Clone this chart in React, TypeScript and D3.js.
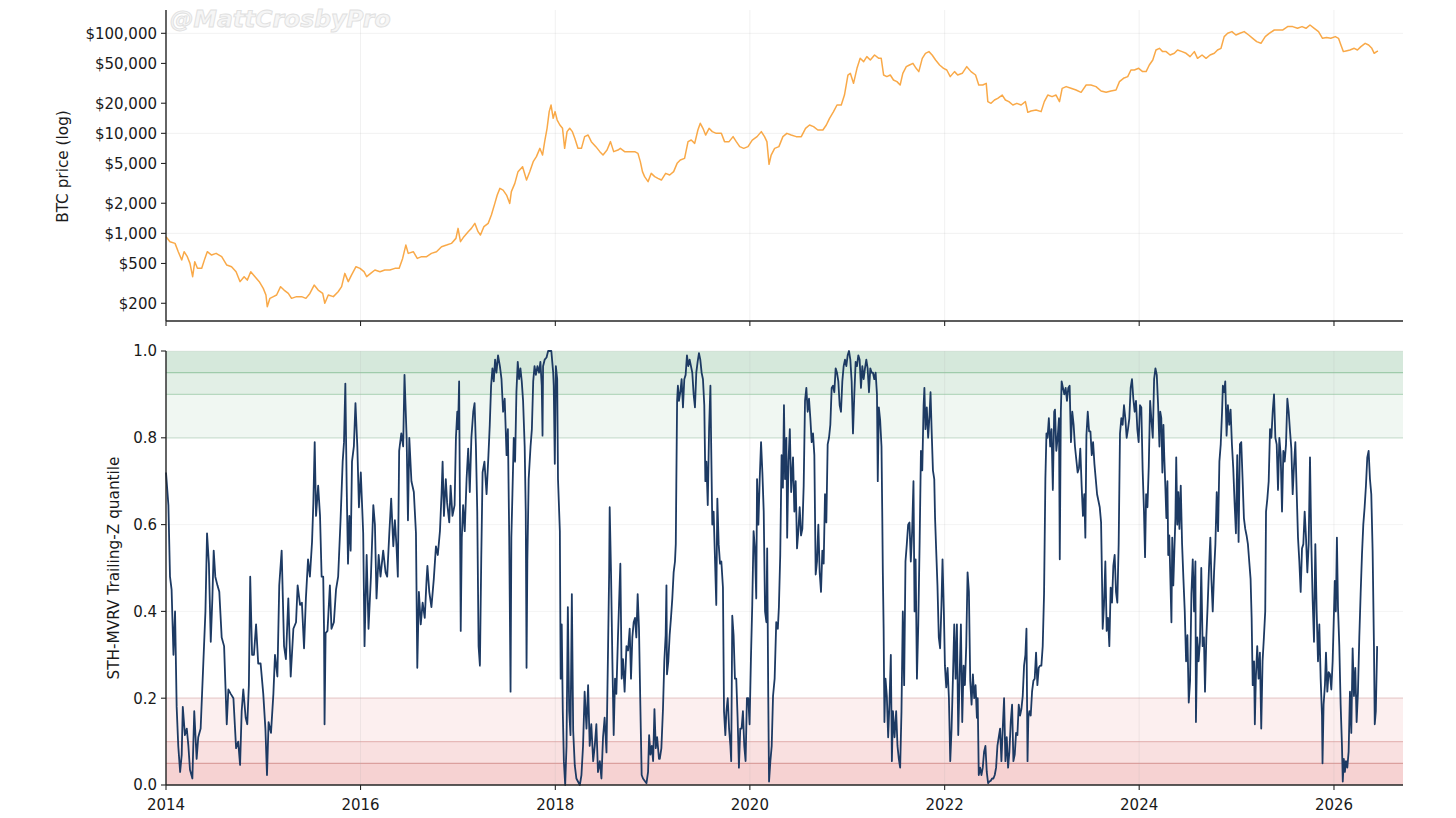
import React from "react";
import * as d3 from "d3";

// days since 2014-01-01 -> value
const START_UTC = Date.UTC(2014, 0, 1);
const END_DAY = 4642;
const YEAR_TICKS = [2014, 2016, 2018, 2020, 2022, 2024, 2026];
const PRICE_TICKS = [200, 500, 1000, 2000, 5000, 10000, 20000, 50000, 100000];
const PRICE_GRID = [1000, 10000, 100000];
const PRICE_DOMAIN: [number, number] = [133, 171000];
const Q_TICKS = [0, 0.2, 0.4, 0.6, 0.8, 1.0];
const HIGH_ZONES = [0.8, 0.9, 0.95];
const LOW_ZONES = [0.2, 0.1, 0.05];

const btcPrice: [number, number][] = [
  [0, 926], [15, 826], [34, 794], [46, 656], [59, 541], [68, 656], [80, 585], [90, 501], [100, 369], [108, 521],
  [118, 447], [134, 447], [146, 562], [155, 656], [171, 607], [188, 631], [209, 585], [228, 482], [246, 464], [263, 414],
  [278, 329], [293, 369], [305, 341], [318, 414], [334, 369], [350, 329], [365, 282], [375, 242], [380, 185], [390, 224],
  [403, 233], [415, 242], [430, 293], [443, 271], [459, 251], [471, 224], [490, 233], [509, 233], [525, 224], [540, 251],
  [556, 304], [571, 271], [588, 251], [596, 200], [609, 242], [628, 233], [646, 261], [659, 293], [671, 398], [684, 329],
  [696, 383], [713, 464], [728, 447], [743, 414], [753, 369], [768, 398], [784, 430], [803, 414], [821, 430], [840, 430],
  [859, 447], [875, 447], [888, 562], [900, 764], [909, 631], [928, 656], [943, 562], [959, 585], [978, 585], [996, 631],
  [1015, 656], [1034, 736], [1053, 764], [1071, 794], [1088, 891], [1096, 1122], [1105, 826], [1118, 927], [1134, 1040], [1146, 1122],
  [1159, 1259], [1171, 1040], [1180, 962], [1193, 1167], [1209, 1259], [1221, 1524], [1234, 1995], [1243, 2415], [1253, 2818], [1265, 2710],
  [1278, 2415], [1290, 1995], [1296, 2612], [1309, 3162], [1321, 4140], [1338, 4642], [1353, 3412], [1365, 4140], [1378, 5212], [1390, 5848],
  [1403, 7079], [1413, 6067], [1421, 8260], [1430, 11220], [1438, 16480], [1445, 19190], [1453, 14130], [1460, 16480], [1468, 13580], [1478, 12110],
  [1488, 11220], [1496, 7079], [1505, 10400], [1515, 11220], [1525, 10400], [1534, 8913], [1546, 7079], [1559, 7079], [1571, 9268], [1584, 9616],
  [1596, 8260], [1613, 7362], [1628, 6561], [1640, 6067], [1655, 6808], [1668, 8260], [1680, 6561], [1696, 6808], [1705, 7079], [1721, 6561],
  [1740, 6561], [1759, 6561], [1771, 6310], [1780, 5212], [1788, 4140], [1796, 3690], [1809, 3289], [1821, 3981], [1834, 3690], [1846, 3548],
  [1859, 3412], [1875, 3981], [1890, 3828], [1905, 4140], [1918, 5012], [1930, 5408], [1946, 5623], [1959, 8260], [1971, 8570], [1984, 7943],
  [1996, 10790], [2005, 12590], [2015, 11220], [2025, 9616], [2038, 11220], [2050, 10400], [2065, 10000], [2084, 10000], [2096, 8260], [2113, 8260],
  [2128, 9268], [2140, 8260], [2153, 7362], [2168, 7079], [2184, 7362], [2200, 8570], [2218, 9268], [2234, 10400], [2246, 9268], [2255, 8260],
  [2263, 4898], [2271, 6067], [2284, 7079], [2300, 7362], [2315, 9268], [2330, 10000], [2346, 9616], [2365, 9268], [2384, 9268], [2400, 11220],
  [2415, 12110], [2430, 11670], [2446, 10790], [2465, 10790], [2478, 12110], [2490, 14130], [2505, 16480], [2518, 19190], [2534, 19190], [2546, 24150],
  [2559, 38280], [2568, 39810], [2580, 31620], [2593, 44670], [2605, 56230], [2618, 52120], [2630, 58480], [2643, 54080], [2659, 60670], [2675, 56230],
  [2684, 56230], [2693, 38280], [2705, 36900], [2718, 38280], [2730, 34120], [2743, 32890], [2755, 30410], [2765, 39810], [2778, 46420], [2790, 48190],
  [2803, 50120], [2815, 44670], [2825, 41400], [2838, 56230], [2850, 63100], [2863, 65610], [2875, 60670], [2888, 54080], [2903, 48190], [2918, 44670],
  [2930, 42950], [2943, 36900], [2959, 41400], [2971, 38280], [2988, 39810], [3005, 46420], [3021, 41400], [3038, 38280], [3050, 30410], [3065, 30410],
  [3078, 31620], [3084, 20750], [3096, 19950], [3109, 21540], [3121, 22390], [3138, 24150], [3150, 21540], [3163, 20750], [3178, 19190], [3193, 19950],
  [3209, 19190], [3225, 20750], [3234, 16220], [3246, 16710], [3265, 17100], [3284, 16480], [3296, 20750], [3309, 24150], [3325, 23280], [3340, 24150],
  [3353, 20750], [3363, 28180], [3378, 29310], [3396, 28180], [3415, 27100], [3434, 25700], [3453, 30410], [3471, 30410], [3490, 29310], [3509, 26490],
  [3528, 25700], [3546, 26490], [3565, 27100], [3578, 32890], [3593, 35480], [3609, 36900], [3621, 42950], [3634, 42950], [3650, 44670], [3665, 41400],
  [3678, 41400], [3690, 48190], [3703, 54080], [3715, 68080], [3728, 70790], [3740, 65610], [3753, 65610], [3768, 60670], [3784, 63100], [3796, 68080],
  [3813, 65610], [3828, 63100], [3843, 58480], [3859, 65610], [3871, 56230], [3888, 60670], [3903, 56230], [3918, 60670], [3934, 63100], [3946, 68080],
  [3959, 70790], [3971, 92680], [3984, 100000], [4000, 104000], [4015, 96160], [4030, 100000], [4046, 104000], [4063, 96160], [4078, 89130], [4093, 82600],
  [4109, 79430], [4125, 92680], [4140, 100000], [4159, 107900], [4175, 107900], [4190, 107900], [4209, 116700], [4228, 116700], [4246, 112200], [4263, 116700],
  [4278, 112200], [4293, 121100], [4309, 112200], [4325, 104000], [4340, 89130], [4355, 90570], [4371, 89130], [4388, 92680], [4400, 89130], [4409, 76380],
  [4418, 65610], [4428, 66540], [4443, 68080], [4459, 70790], [4471, 68080], [4484, 73620], [4500, 79430], [4513, 76380], [4525, 70790], [4534, 63100],
  [4543, 65610], [4548, 66540],
];

const sthQuantile: [number, number][] = [
  [0, 0.72], [9, 0.645], [15, 0.48], [21, 0.45], [28, 0.3], [34, 0.4], [40, 0.18], [46, 0.09], [53, 0.03], [59, 0.07],
  [63, 0.18], [71, 0.115], [78, 0.13], [84, 0.09], [90, 0.035], [99, 0.015], [106, 0.17], [115, 0.06], [121, 0.11], [130, 0.13],
  [140, 0.28], [148, 0.4], [154, 0.58], [161, 0.51], [168, 0.33], [174, 0.43], [179, 0.54], [185, 0.48], [193, 0.46], [200, 0.445],
  [209, 0.34], [218, 0.32], [228, 0.14], [234, 0.22], [243, 0.21], [253, 0.2], [263, 0.085], [271, 0.1], [278, 0.046], [284, 0.17],
  [290, 0.22], [299, 0.155], [305, 0.14], [311, 0.23], [316, 0.48], [323, 0.3], [330, 0.3], [338, 0.37], [346, 0.28], [355, 0.28],
  [365, 0.21], [373, 0.13], [379, 0.023], [385, 0.145], [394, 0.12], [403, 0.21], [409, 0.3], [418, 0.25], [425, 0.46], [434, 0.54],
  [443, 0.32], [450, 0.29], [459, 0.43], [468, 0.25], [478, 0.36], [488, 0.375], [494, 0.46], [503, 0.415], [510, 0.42], [518, 0.315],
  [525, 0.43], [533, 0.52], [540, 0.48], [548, 0.56], [553, 0.65], [558, 0.79], [563, 0.62], [571, 0.69], [578, 0.62], [584, 0.48],
  [590, 0.48], [593, 0.36], [595, 0.14], [599, 0.35], [606, 0.355], [615, 0.46], [621, 0.36], [630, 0.375], [638, 0.45], [646, 0.48],
  [655, 0.61], [663, 0.745], [668, 0.79], [673, 0.925], [678, 0.69], [683, 0.51], [688, 0.62], [693, 0.54], [698, 0.745], [705, 0.78],
  [711, 0.88], [718, 0.78], [724, 0.64], [731, 0.72], [740, 0.58], [745, 0.32], [753, 0.53], [760, 0.36], [769, 0.48], [778, 0.645],
  [784, 0.6], [790, 0.43], [798, 0.53], [805, 0.48], [815, 0.54], [824, 0.49], [830, 0.48], [838, 0.58], [845, 0.66], [853, 0.55],
  [859, 0.61], [865, 0.55], [870, 0.48], [875, 0.77], [883, 0.81], [890, 0.78], [895, 0.945], [903, 0.8], [908, 0.61], [913, 0.8],
  [921, 0.7], [930, 0.675], [938, 0.58], [943, 0.27], [949, 0.445], [956, 0.37], [963, 0.42], [971, 0.385], [978, 0.475], [981, 0.505],
  [988, 0.445], [996, 0.41], [1005, 0.475], [1013, 0.55], [1020, 0.53], [1028, 0.585], [1034, 0.67], [1038, 0.745], [1043, 0.62], [1050, 0.705],
  [1055, 0.65], [1063, 0.605], [1068, 0.69], [1075, 0.62], [1083, 0.645], [1088, 0.8], [1093, 0.86], [1096, 0.82], [1100, 0.93], [1103, 0.645],
  [1106, 0.355], [1110, 0.57], [1115, 0.645], [1121, 0.585], [1128, 0.705], [1134, 0.775], [1140, 0.675], [1146, 0.8], [1153, 0.86], [1158, 0.88],
  [1163, 0.78], [1168, 0.63], [1173, 0.32], [1178, 0.275], [1183, 0.52], [1188, 0.72], [1195, 0.745], [1203, 0.67], [1210, 0.76], [1215, 0.83],
  [1220, 0.92], [1225, 0.96], [1230, 0.93], [1235, 0.98], [1240, 0.95], [1246, 0.99], [1253, 0.965], [1259, 0.935], [1265, 0.86], [1271, 0.89],
  [1278, 0.76], [1283, 0.82], [1288, 0.57], [1293, 0.215], [1296, 0.57], [1300, 0.67], [1305, 0.8], [1310, 0.745], [1315, 0.905], [1320, 0.975],
  [1325, 0.935], [1330, 0.96], [1335, 0.93], [1340, 0.885], [1346, 0.78], [1350, 0.63], [1353, 0.27], [1356, 0.515], [1361, 0.705], [1368, 0.78],
  [1373, 0.82], [1378, 0.93], [1383, 0.965], [1388, 0.945], [1394, 0.965], [1400, 0.95], [1405, 0.975], [1410, 0.92], [1413, 0.805], [1415, 0.965],
  [1421, 0.98], [1428, 0.985], [1434, 1.0], [1446, 1.0], [1453, 0.95], [1455, 0.92], [1459, 0.74], [1463, 0.965], [1468, 0.935], [1471, 0.705],
  [1478, 0.585], [1481, 0.245], [1485, 0.37], [1489, 0.17], [1493, 0.055], [1498, 0.0], [1503, 0.09], [1508, 0.41], [1513, 0.17], [1518, 0.115],
  [1523, 0.44], [1528, 0.125], [1534, 0.045], [1540, 0.015], [1546, 0.008], [1553, 0.0], [1559, 0.023], [1565, 0.09], [1571, 0.215], [1578, 0.13],
  [1584, 0.23], [1590, 0.09], [1596, 0.14], [1603, 0.055], [1609, 0.09], [1615, 0.14], [1621, 0.03], [1628, 0.055], [1634, 0.015], [1640, 0.11],
  [1646, 0.155], [1653, 0.075], [1659, 0.32], [1663, 0.49], [1665, 0.64], [1670, 0.49], [1675, 0.29], [1680, 0.115], [1685, 0.245], [1690, 0.21],
  [1696, 0.34], [1700, 0.415], [1705, 0.51], [1710, 0.245], [1715, 0.29], [1721, 0.215], [1728, 0.32], [1734, 0.31], [1740, 0.36], [1745, 0.245],
  [1750, 0.34], [1755, 0.375], [1760, 0.385], [1765, 0.34], [1770, 0.44], [1775, 0.36], [1780, 0.185], [1785, 0.023], [1790, 0.015], [1796, 0.01],
  [1803, 0.004], [1809, 0.03], [1813, 0.115], [1818, 0.07], [1823, 0.09], [1828, 0.055], [1833, 0.175], [1838, 0.085], [1843, 0.11], [1850, 0.06],
  [1853, 0.06], [1859, 0.085], [1865, 0.175], [1870, 0.285], [1875, 0.345], [1878, 0.46], [1880, 0.255], [1885, 0.285], [1890, 0.345], [1895, 0.385],
  [1900, 0.43], [1905, 0.49], [1910, 0.515], [1913, 0.555], [1915, 0.69], [1918, 0.885], [1921, 0.92], [1925, 0.885], [1930, 0.905], [1935, 0.935],
  [1940, 0.87], [1945, 0.935], [1950, 0.945], [1955, 0.99], [1960, 0.965], [1965, 0.98], [1970, 0.965], [1975, 0.95], [1980, 0.9], [1985, 0.87],
  [1990, 0.95], [1995, 0.975], [2000, 0.995], [2005, 0.98], [2010, 0.95], [2015, 0.935], [2020, 0.875], [2024, 0.7], [2028, 0.745], [2033, 0.645],
  [2038, 0.82], [2043, 0.92], [2046, 0.775], [2050, 0.6], [2055, 0.63], [2059, 0.545], [2065, 0.415], [2069, 0.66], [2074, 0.555], [2079, 0.51],
  [2084, 0.515], [2090, 0.455], [2094, 0.17], [2099, 0.115], [2103, 0.17], [2108, 0.2], [2113, 0.13], [2118, 0.09], [2121, 0.055], [2125, 0.39],
  [2130, 0.345], [2135, 0.245], [2140, 0.245], [2145, 0.155], [2150, 0.04], [2155, 0.13], [2160, 0.13], [2165, 0.17], [2170, 0.09], [2175, 0.055],
  [2180, 0.2], [2185, 0.2], [2190, 0.14], [2195, 0.29], [2200, 0.415], [2205, 0.585], [2210, 0.545], [2215, 0.43], [2218, 0.705], [2223, 0.6],
  [2228, 0.705], [2233, 0.79], [2238, 0.72], [2243, 0.63], [2248, 0.4], [2253, 0.375], [2256, 0.545], [2260, 0.205], [2263, 0.008], [2268, 0.055],
  [2273, 0.09], [2278, 0.205], [2284, 0.245], [2290, 0.375], [2296, 0.36], [2300, 0.41], [2305, 0.53], [2310, 0.76], [2315, 0.685], [2319, 0.875],
  [2323, 0.705], [2328, 0.8], [2331, 0.57], [2336, 0.745], [2341, 0.82], [2346, 0.675], [2353, 0.755], [2358, 0.63], [2363, 0.7], [2368, 0.545],
  [2373, 0.585], [2378, 0.64], [2383, 0.575], [2388, 0.59], [2393, 0.69], [2398, 0.885], [2403, 0.915], [2408, 0.86], [2413, 0.89], [2418, 0.845],
  [2423, 0.79], [2428, 0.81], [2433, 0.76], [2438, 0.485], [2443, 0.515], [2448, 0.6], [2453, 0.49], [2458, 0.445], [2463, 0.54], [2468, 0.51],
  [2473, 0.67], [2478, 0.605], [2483, 0.785], [2488, 0.8], [2493, 0.83], [2498, 0.915], [2503, 0.92], [2508, 0.905], [2513, 0.96], [2518, 0.95],
  [2523, 0.93], [2528, 0.875], [2533, 0.86], [2538, 0.93], [2543, 0.965], [2548, 0.98], [2553, 0.965], [2558, 0.99], [2563, 1.0], [2568, 0.98],
  [2573, 0.93], [2578, 0.81], [2583, 0.9], [2588, 0.975], [2593, 0.965], [2598, 0.99], [2603, 0.98], [2608, 0.915], [2613, 0.965], [2618, 0.935],
  [2623, 0.96], [2628, 0.98], [2633, 0.96], [2638, 0.905], [2643, 0.96], [2648, 0.95], [2653, 0.95], [2658, 0.935], [2663, 0.95], [2668, 0.9],
  [2671, 0.7], [2675, 0.87], [2680, 0.84], [2685, 0.78], [2688, 0.615], [2690, 0.49], [2693, 0.36], [2696, 0.145], [2700, 0.245], [2705, 0.205],
  [2710, 0.11], [2715, 0.19], [2720, 0.3], [2724, 0.055], [2728, 0.17], [2734, 0.11], [2740, 0.17], [2745, 0.09], [2750, 0.06], [2755, 0.04],
  [2760, 0.17], [2765, 0.4], [2770, 0.23], [2775, 0.515], [2780, 0.555], [2785, 0.6], [2790, 0.605], [2795, 0.515], [2800, 0.585], [2805, 0.7],
  [2809, 0.4], [2813, 0.52], [2818, 0.245], [2823, 0.37], [2828, 0.555], [2833, 0.77], [2838, 0.725], [2843, 0.875], [2846, 0.915], [2850, 0.82],
  [2855, 0.87], [2860, 0.8], [2865, 0.85], [2869, 0.905], [2873, 0.82], [2878, 0.725], [2883, 0.705], [2886, 0.615], [2890, 0.545], [2895, 0.46],
  [2900, 0.34], [2905, 0.315], [2910, 0.415], [2914, 0.52], [2919, 0.4], [2923, 0.275], [2928, 0.225], [2933, 0.27], [2938, 0.2], [2943, 0.055],
  [2948, 0.13], [2953, 0.245], [2958, 0.37], [2963, 0.245], [2968, 0.37], [2973, 0.115], [2978, 0.245], [2983, 0.37], [2988, 0.145], [2993, 0.275],
  [2998, 0.23], [3003, 0.32], [3008, 0.49], [3013, 0.445], [3018, 0.24], [3023, 0.185], [3028, 0.255], [3033, 0.2], [3038, 0.23], [3043, 0.155],
  [3046, 0.2], [3050, 0.023], [3055, 0.04], [3060, 0.023], [3065, 0.04], [3070, 0.077], [3075, 0.09], [3080, 0.03], [3085, 0.004], [3090, 0.008],
  [3095, 0.01], [3100, 0.015], [3105, 0.015], [3110, 0.023], [3115, 0.04], [3120, 0.09], [3125, 0.11], [3130, 0.13], [3135, 0.055], [3140, 0.13],
  [3145, 0.2], [3150, 0.055], [3155, 0.11], [3160, 0.04], [3165, 0.077], [3170, 0.145], [3175, 0.185], [3180, 0.055], [3185, 0.07], [3190, 0.12],
  [3195, 0.115], [3200, 0.185], [3205, 0.16], [3210, 0.175], [3215, 0.205], [3220, 0.275], [3225, 0.3], [3229, 0.36], [3233, 0.055], [3236, 0.155],
  [3240, 0.17], [3245, 0.16], [3250, 0.215], [3255, 0.24], [3260, 0.245], [3265, 0.305], [3270, 0.23], [3275, 0.27], [3280, 0.275], [3285, 0.275],
  [3290, 0.32], [3295, 0.44], [3300, 0.705], [3304, 0.81], [3308, 0.8], [3313, 0.845], [3318, 0.78], [3323, 0.82], [3328, 0.68], [3333, 0.86],
  [3336, 0.865], [3341, 0.77], [3346, 0.8], [3351, 0.845], [3354, 0.52], [3358, 0.86], [3361, 0.93], [3366, 0.915], [3371, 0.9], [3376, 0.915],
  [3381, 0.885], [3386, 0.915], [3391, 0.92], [3396, 0.79], [3401, 0.86], [3406, 0.83], [3411, 0.78], [3416, 0.75], [3421, 0.72], [3426, 0.73],
  [3431, 0.775], [3436, 0.69], [3441, 0.62], [3446, 0.67], [3450, 0.57], [3454, 0.805], [3459, 0.86], [3464, 0.815], [3469, 0.815], [3474, 0.76],
  [3479, 0.79], [3484, 0.74], [3489, 0.705], [3494, 0.67], [3499, 0.655], [3504, 0.64], [3509, 0.605], [3513, 0.455], [3515, 0.36], [3520, 0.415],
  [3525, 0.515], [3530, 0.355], [3535, 0.385], [3540, 0.32], [3545, 0.455], [3550, 0.42], [3555, 0.505], [3560, 0.53], [3565, 0.445], [3570, 0.42],
  [3575, 0.555], [3580, 0.81], [3585, 0.845], [3590, 0.83], [3595, 0.875], [3600, 0.845], [3605, 0.8], [3610, 0.82], [3615, 0.845], [3620, 0.915],
  [3625, 0.935], [3630, 0.89], [3635, 0.86], [3640, 0.885], [3645, 0.82], [3650, 0.79], [3655, 0.875], [3660, 0.87], [3665, 0.725], [3670, 0.63],
  [3674, 0.525], [3678, 0.67], [3683, 0.64], [3688, 0.735], [3693, 0.885], [3698, 0.84], [3703, 0.8], [3708, 0.935], [3713, 0.96], [3718, 0.945],
  [3723, 0.875], [3728, 0.78], [3731, 0.86], [3735, 0.845], [3739, 0.72], [3743, 0.83], [3746, 0.76], [3750, 0.69], [3754, 0.615], [3758, 0.7],
  [3761, 0.53], [3765, 0.575], [3769, 0.475], [3773, 0.375], [3776, 0.57], [3780, 0.46], [3784, 0.54], [3788, 0.615], [3791, 0.755], [3795, 0.6],
  [3799, 0.675], [3803, 0.59], [3808, 0.69], [3813, 0.555], [3818, 0.475], [3823, 0.4], [3828, 0.285], [3833, 0.345], [3838, 0.19], [3843, 0.24],
  [3848, 0.44], [3853, 0.52], [3858, 0.4], [3863, 0.515], [3865, 0.145], [3870, 0.34], [3875, 0.285], [3880, 0.33], [3885, 0.5], [3890, 0.32],
  [3895, 0.34], [3899, 0.215], [3904, 0.34], [3909, 0.415], [3914, 0.5], [3919, 0.57], [3923, 0.475], [3928, 0.4], [3933, 0.49], [3938, 0.555],
  [3943, 0.675], [3948, 0.585], [3953, 0.745], [3958, 0.785], [3963, 0.86], [3966, 0.92], [3971, 0.905], [3975, 0.93], [3980, 0.805], [3985, 0.875],
  [3990, 0.83], [3995, 0.865], [4000, 0.785], [4005, 0.73], [4010, 0.65], [4015, 0.58], [4020, 0.76], [4025, 0.56], [4030, 0.785], [4035, 0.79],
  [4040, 0.705], [4045, 0.615], [4050, 0.59], [4055, 0.575], [4060, 0.555], [4065, 0.515], [4070, 0.475], [4074, 0.385], [4078, 0.23], [4083, 0.285],
  [4086, 0.14], [4090, 0.25], [4095, 0.32], [4100, 0.245], [4105, 0.305], [4110, 0.13], [4115, 0.285], [4120, 0.34], [4125, 0.4], [4128, 0.63],
  [4133, 0.66], [4138, 0.7], [4143, 0.82], [4148, 0.8], [4153, 0.86], [4158, 0.9], [4163, 0.8], [4168, 0.785], [4173, 0.68], [4178, 0.8],
  [4183, 0.76], [4188, 0.63], [4193, 0.77], [4198, 0.745], [4203, 0.785], [4208, 0.89], [4213, 0.86], [4218, 0.815], [4223, 0.775], [4228, 0.67],
  [4233, 0.735], [4238, 0.79], [4243, 0.675], [4248, 0.57], [4253, 0.515], [4258, 0.445], [4263, 0.545], [4268, 0.555], [4273, 0.63], [4278, 0.57],
  [4283, 0.49], [4288, 0.555], [4293, 0.755], [4298, 0.555], [4303, 0.425], [4308, 0.33], [4313, 0.555], [4318, 0.4], [4323, 0.285], [4328, 0.37],
  [4333, 0.245], [4338, 0.16], [4340, 0.05], [4344, 0.185], [4349, 0.23], [4353, 0.305], [4358, 0.215], [4363, 0.26], [4368, 0.255], [4373, 0.22],
  [4378, 0.285], [4383, 0.4], [4386, 0.47], [4390, 0.4], [4394, 0.57], [4398, 0.41], [4403, 0.32], [4408, 0.185], [4413, 0.09], [4416, 0.008],
  [4420, 0.06], [4424, 0.03], [4428, 0.055], [4433, 0.04], [4438, 0.077], [4443, 0.215], [4448, 0.12], [4453, 0.315], [4458, 0.205], [4463, 0.27],
  [4468, 0.145], [4473, 0.215], [4478, 0.34], [4483, 0.44], [4488, 0.53], [4493, 0.6], [4498, 0.64], [4503, 0.69], [4508, 0.755], [4513, 0.77],
  [4518, 0.705], [4523, 0.67], [4528, 0.54], [4533, 0.32], [4536, 0.14], [4540, 0.17], [4545, 0.32],
];

const dayOfYear = (y: number) => (Date.UTC(y, 0, 1) - START_UTC) / 86400000;
const fmtPrice = (v: number) => "$" + d3.format(",")(v);

export default function App() {
  const W = 1456;
  const H = 818;
  const left = 166;
  const right = 1403;
  const top1 = 10;
  const bottom1 = 321;
  const top2 = 351;
  const bottom2 = 785;
  const font = "DejaVu Sans, Verdana, sans-serif";
  const axisColor = "#262626";
  const gridColor = "#b0b0b0";
  const tickFont = 15;
  const labelFont = 15.3;

  const x = d3.scaleLinear().domain([0, END_DAY]).range([left, right]);
  const yP = d3.scaleLog().domain(PRICE_DOMAIN).range([bottom1, top1]);
  const yQ = d3.scaleLinear().domain([0, 1]).range([bottom2, top2]);

  const priceLine = d3.line<[number, number]>().x((d) => x(d[0])).y((d) => yP(d[1]));
  const qLine = d3.line<[number, number]>().x((d) => x(d[0])).y((d) => yQ(d[1]));

  const highLineColors = ["#d2e8d8", "#b6d8bf", "#9fcbab"];
  const lowLineColors = ["#f0d2d2", "#e6b9b8", "#dba09e"];

  return (
    <svg width={W} height={H} style={{ position: "absolute", left: 0, top: 0, background: "#fff" }} fontFamily={font}>
      {/* top panel: price */}
      <g>
        {YEAR_TICKS.map((yr) => (
          <line key={"vg1" + yr} x1={x(dayOfYear(yr))} x2={x(dayOfYear(yr))} y1={top1} y2={bottom1} stroke={gridColor} strokeOpacity={0.22} strokeWidth={0.8} />
        ))}
        {PRICE_GRID.map((p) => (
          <line key={"hg1" + p} x1={left} x2={right} y1={yP(p)} y2={yP(p)} stroke={gridColor} strokeOpacity={0.22} strokeWidth={0.8} />
        ))}
        <path d={priceLine(btcPrice) || ""} fill="none" stroke="#f7931a" strokeOpacity={0.8} strokeWidth={1.5} strokeLinejoin="round" />
        <text x={170} y={27} fontSize={23.5} fontWeight="bold" fontStyle="italic" fill="#f6f6f6" stroke="#e0e0e0" strokeWidth={0.9}>
          @MattCrosbyPro
        </text>
        <line x1={left} x2={left} y1={top1} y2={bottom1} stroke={axisColor} strokeWidth={1.4} />
        <line x1={left} x2={right} y1={bottom1} y2={bottom1} stroke={axisColor} strokeWidth={1.4} />
        {PRICE_TICKS.map((p) => (
          <g key={"pt" + p}>
            <line x1={left - 5} x2={left} y1={yP(p)} y2={yP(p)} stroke={axisColor} strokeWidth={1.1} />
            <text x={left - 9} y={yP(p)} dy="0.36em" textAnchor="end" fontSize={tickFont} fill="#1a1a1a">
              {fmtPrice(p)}
            </text>
          </g>
        ))}
        {YEAR_TICKS.map((yr) => (
          <line key={"xt1" + yr} x1={x(dayOfYear(yr))} x2={x(dayOfYear(yr))} y1={bottom1} y2={bottom1 + 5} stroke={axisColor} strokeWidth={1.1} />
        ))}
        <text transform={`translate(68,${(top1 + bottom1) / 2 + 1}) rotate(-90)`} textAnchor="middle" fontSize={labelFont} fill="#1a1a1a">
          BTC price (log)
        </text>
      </g>

      {/* bottom panel: quantile */}
      <g>
        {HIGH_ZONES.map((lo) => (
          <rect key={"hz" + lo} x={left} width={right - left} y={yQ(1)} height={yQ(lo) - yQ(1)} fill="#3a9d5d" fillOpacity={0.08} />
        ))}
        {LOW_ZONES.map((hi) => (
          <rect key={"lz" + hi} x={left} width={right - left} y={yQ(hi)} height={yQ(0) - yQ(hi)} fill="#d9534f" fillOpacity={0.09} />
        ))}
        {HIGH_ZONES.map((v, i) => (
          <line key={"hl" + v} x1={left} x2={right} y1={yQ(v)} y2={yQ(v)} stroke={highLineColors[i]} strokeWidth={1.2} />
        ))}
        {LOW_ZONES.map((v, i) => (
          <line key={"ll" + v} x1={left} x2={right} y1={yQ(v)} y2={yQ(v)} stroke={lowLineColors[i]} strokeWidth={1.2} />
        ))}
        {YEAR_TICKS.map((yr) => (
          <line key={"vg2" + yr} x1={x(dayOfYear(yr))} x2={x(dayOfYear(yr))} y1={top2} y2={bottom2} stroke={gridColor} strokeOpacity={0.22} strokeWidth={0.8} />
        ))}
        {Q_TICKS.map((q) => (
          <line key={"hg2" + q} x1={left} x2={right} y1={yQ(q)} y2={yQ(q)} stroke={gridColor} strokeOpacity={0.18} strokeWidth={0.8} />
        ))}
        <path d={qLine(sthQuantile) || ""} fill="none" stroke="#1d3a63" strokeWidth={1.8} strokeLinejoin="round" />
        <line x1={left} x2={left} y1={top2} y2={bottom2} stroke={axisColor} strokeWidth={1.4} />
        <line x1={left} x2={right} y1={bottom2} y2={bottom2} stroke={axisColor} strokeWidth={1.4} />
        {Q_TICKS.map((q) => (
          <g key={"qt" + q}>
            <line x1={left - 5} x2={left} y1={yQ(q)} y2={yQ(q)} stroke={axisColor} strokeWidth={1.1} />
            <text x={left - 9} y={yQ(q)} dy="0.36em" textAnchor="end" fontSize={tickFont} fill="#1a1a1a">
              {q.toFixed(1)}
            </text>
          </g>
        ))}
        {YEAR_TICKS.map((yr) => (
          <g key={"xt2" + yr}>
            <line x1={x(dayOfYear(yr))} x2={x(dayOfYear(yr))} y1={bottom2} y2={bottom2 + 5} stroke={axisColor} strokeWidth={1.1} />
            <text x={x(dayOfYear(yr))} y={bottom2 + 25} textAnchor="middle" fontSize={tickFont} fill="#1a1a1a">
              {yr}
            </text>
          </g>
        ))}
        <text transform={`translate(119,${(top2 + bottom2) / 2}) rotate(-90)`} textAnchor="middle" fontSize={labelFont} fill="#1a1a1a">
          STH-MVRV Trailing-Z quantile
        </text>
      </g>
    </svg>
  );
}
